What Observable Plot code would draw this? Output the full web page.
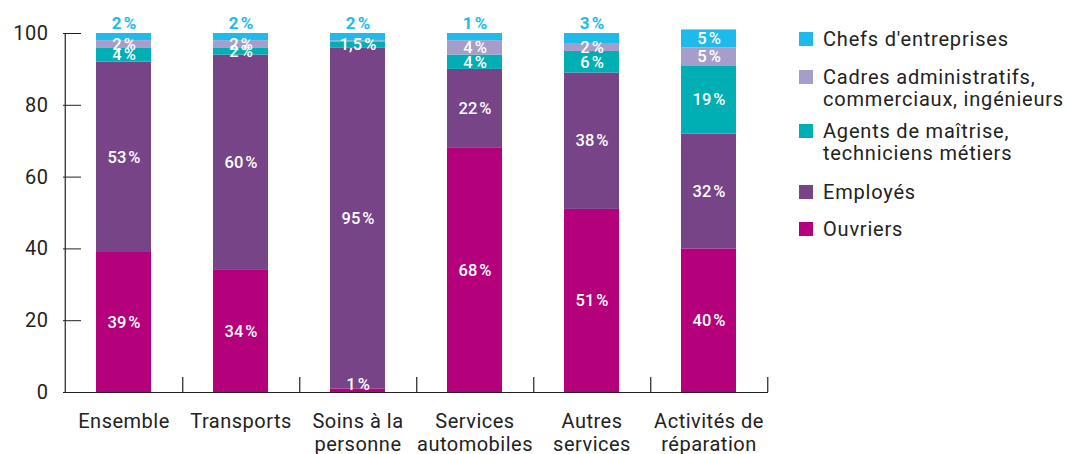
<!DOCTYPE html>
<html>
<head>
<meta charset="utf-8">
<script src="https://cdn.jsdelivr.net/npm/d3@7"></script>
<script src="https://cdn.jsdelivr.net/npm/@observablehq/plot@0.6"></script>
<style>
  html, body { margin: 0; padding: 0; background: #fff; }
  #wrap { position: relative; width: 1067px; height: 454px; font-family: Roboto, sans-serif; }
  #chart { position: absolute; left: 0; top: 0; }
  .lg-sq { position: absolute; width: 14px; height: 14px; left: 799px; }
  .lg-tx { position: absolute; left: 823px; font-size: 20px; line-height: 22px; letter-spacing: 0.8px; color: #222; white-space: nowrap; }
</style>
</head>
<body>
<div id="wrap"><div id="chart"></div></div>
<script>
// ---- data ----
const categories = ["Ensemble", "Transports", "Soins à la\npersonne", "Services\nautomobiles", "Autres\nservices", "Activités de\nréparation"];
const seriesNames = ["Ouvriers", "Employés", "Agents de maîtrise,\ntechniciens métiers", "Cadres administratifs,\ncommerciaux, ingénieurs", "Chefs d'entreprises"];
const ouvriers = [39, 34, 1, 68, 51, 40];
const employes = [53, 60, 95, 22, 38, 32];
const agents   = [4, 2, 1.5, 4, 6, 19];
const cadres   = [2, 2, 0.5, 4, 2, 5];
const chefs    = [2, 2, 2, 2, 3, 5];
const ouvriersLabels = ["39 %", "34 %", "1 %", "68 %", "51 %", "40 %"];
const employesLabels = ["53 %", "60 %", "95 %", "22 %", "38 %", "32 %"];
const agentsLabels   = ["4 %", "2 %", "1,5 %", "4 %", "6 %", "19 %"];
const cadresLabels   = ["2 %", "2 %", "", "4 %", "2 %", "5 %"];
const chefsLabels    = ["2 %", "2 %", "2 %", "1 %", "3 %", "5 %"];
const yTicks = [0, 20, 40, 60, 80, 100];
const colors = ["#B4007A", "#774488", "#00AFB4", "#A69DCA", "#1EBBEA"];

// ---- build stacked table ----
const seriesValues = [ouvriers, employes, agents, cadres, chefs];
const seriesLabels = [ouvriersLabels, employesLabels, agentsLabels, cadresLabels, chefsLabels];
const segs = [];
categories.forEach((cat, i) => {
  let base = 0;
  seriesValues.forEach((vals, s) => {
    const v = vals[i];
    segs.push({cat, series: seriesNames[s], s, v, y1: base, y2: base + v,
               label: seriesLabels[s][i].replace(" %", "\u202F%")});
    base += v;
  });
});
const inside = segs.filter(d => d.label && !(d.s === 4 && d.v < 4));
const above = segs.filter(d => d.label && d.s === 4 && d.v < 4);

const W = 780, ML = 63, MR = 12;
const step = (W - ML - MR) / categories.length;

const chart = Plot.plot({
  width: W, height: 454,
  marginLeft: ML, marginRight: MR, marginTop: 33, marginBottom: 62,
  style: {fontFamily: "Roboto, sans-serif", fontSize: "19px", color: "#222", background: "transparent"},
  x: {domain: categories, paddingInner: 0.53, paddingOuter: 0.265, label: null},
  y: {domain: [0, 100], label: null},
  color: {domain: seriesNames, range: colors},
  marks: [
    Plot.barY(segs, {x: "cat", y1: "y1", y2: "y2", fill: "series"}),
    Plot.ruleY([0], {stroke: "#222", strokeWidth: 1.2}),
    Plot.ruleX([categories[0]], {x: d => d, y1: 0, y2: 100, dx: -step / 2, stroke: "#222", strokeWidth: 1.2}),
    Plot.axisY({ticks: yTicks, tickSize: -18, tickPadding: 33, label: null, fontSize: 20, letterSpacing: 1, stroke: "#222"}),
    Plot.axisX({tickSize: 0, tickPadding: 19, lineHeight: 1.15, fontSize: 20, label: null}),
    Plot.ruleX(categories, {x: d => d, y1: 0, y2: 4.2, dx: step / 2, stroke: "#222", strokeWidth: 1.2}),
    Plot.text(inside, {x: "cat", y: d => Math.max((d.y1 + d.y2) / 2, 2.3), text: "label",
      fill: "white", fontSize: 16.5, fontWeight: 500}),
    Plot.text(above, {x: "cat", y: "y2", text: "label", dy: -10,
      fill: "#1EBBEA", fontSize: 17, fontWeight: 700})
  ]
});
chart.style.letterSpacing = "0.5px";
document.getElementById("chart").appendChild(chart);

// ---- legend (right side, HTML) ----
const legendOrder = [4, 3, 2, 1, 0];
const legendTops = [32, 70, 124, 185, 222];
const wrap = document.getElementById("wrap");
legendOrder.forEach((s, k) => {
  const sq = document.createElement("div");
  sq.className = "lg-sq";
  sq.style.top = legendTops[k] + "px";
  sq.style.background = colors[s];
  wrap.appendChild(sq);
  const tx = document.createElement("div");
  tx.className = "lg-tx";
  tx.style.top = (legendTops[k] - 4) + "px";
  tx.innerHTML = seriesNames[s].split("\n").join("<br>");
  wrap.appendChild(tx);
});
</script>
</body>
</html>
